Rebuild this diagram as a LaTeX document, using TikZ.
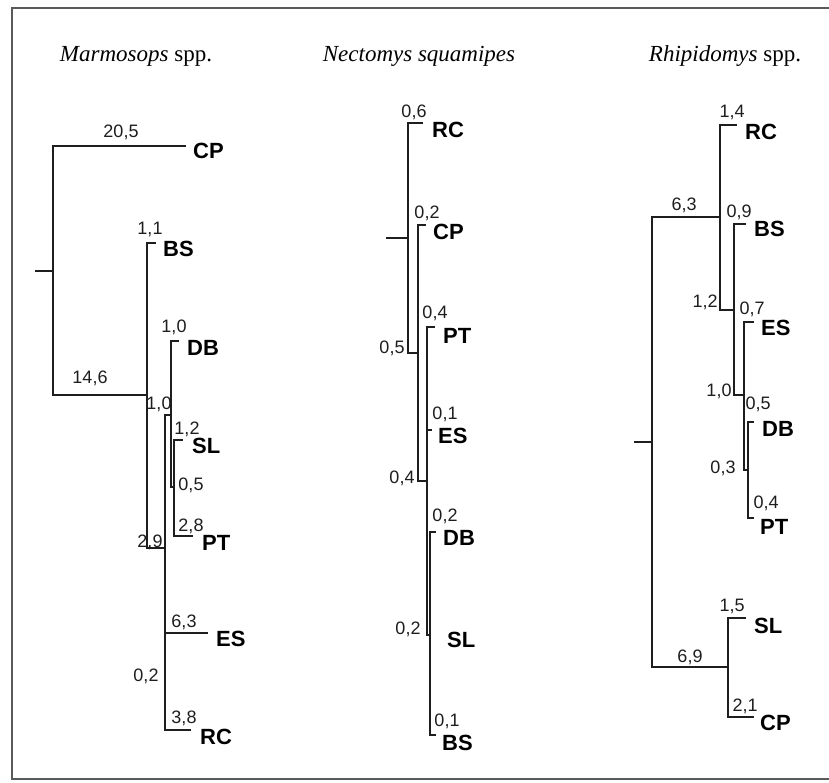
\documentclass[tikz,border=0pt]{standalone}
\usepackage{fontspec}
\setmainfont{Liberation Serif}
\newfontfamily\labfont{Liberation Sans}
\definecolor{ink}{HTML}{1E1E1E}
\definecolor{framec}{HTML}{5A5A5A}
\begin{document}
\begin{tikzpicture}[x=1pt,y=-1pt,
  branch/.style={draw=ink,line width=2.1pt,line cap=rect},
  framebox/.style={draw=framec,line width=2pt},
  num/.style={inner sep=0pt,anchor=base,text=ink,font=\labfont\fontsize{18}{18}\selectfont},
  leaf/.style={inner sep=0pt,anchor=base west,text=black,font=\labfont\bfseries\fontsize{22}{22}\selectfont},
  ttl/.style={inner sep=0pt,anchor=base,text=black,font=\fontsize{23}{23}\selectfont}]
\useasboundingbox (0,0) rectangle (829,783);
\fill[white] (0,0) rectangle (829,783);
\draw[framebox] (12,8) rectangle (845,779);

% titles
\node[ttl] (tL) at (136,62) {\textit{Marmosops} spp.};
\node[ttl] (tM) at (419,62) {\textit{Nectomys squamipes}};
\node[ttl] (tR) at (725,62) {\textit{Rhipidomys} spp.};

% ---------- left tree ----------
\coordinate (Lroot) at (36,271);
\coordinate (La) at (53,271);
\coordinate (LCP) at (185,146);
\coordinate (Lb) at (147,395);
\coordinate (LBS) at (155,243);
\coordinate (Lc) at (165,548);
\coordinate (Ld) at (171,415);
\coordinate (LRC) at (190,730);
\coordinate (LESj) at (165,633);
\coordinate (LES) at (207,633);
\coordinate (L02) at (165,682);
\coordinate (LDB) at (178,341);
\coordinate (Le) at (171,487);
\coordinate (Lf) at (174,487);
\coordinate (LSL) at (182,440);
\coordinate (LPT) at (192,536);
\draw[branch] (Lroot) -- (La);
\draw[branch] (LCP) -| (La) |- (Lb);
\draw[branch] (LBS) -| (Lb) |- (Lc);
\draw[branch] (Ld) -| (Lc) |- (LRC);
\draw[branch] (LESj) -- (LES);
\draw[branch,xshift=1.5pt] (LESj) -- (L02);
\draw[branch] (LDB) -| (Ld) -- (Le) -- (Lf);
\draw[branch] (LSL) -| (Lf) |- (LPT);

\node[num] (nL1) at (121,138) {20,5};
\node[num] (nL2) at (90,383) {14,6};
\node[num] (nL3) at (150,235) {1,1};
\node[num] (nL4) at (174,332) {1,0};
\node[num] (nL5) at (159,409) {1,0};
\node[num] (nL6) at (187,434) {1,2};
\node[num] (nL7) at (191,490) {0,5};
\node[num] (nL8) at (191,531) {2,8};
\node[num] (nL9) at (150,547) {2,9};
\node[num] (nL10) at (184,627) {6,3};
\node[num] (nL11) at (146,681) {0,2};
\node[num] (nL12) at (184,723) {3,8};
\node[leaf] (lLCP) at (193,159) {CP};
\node[leaf] (lLBS) at (163,257) {BS};
\node[leaf] (lLDB) at (187,355) {DB};
\node[leaf] (lLSL) at (192,453) {SL};
\node[leaf] (lLPT) at (202,550) {PT};
\node[leaf] (lLES) at (216,646) {ES};
\node[leaf] (lLRC) at (200,744) {RC};

% ---------- middle tree ----------
\coordinate (Mroot) at (387,238);
\coordinate (Ma) at (408,238);
\coordinate (MRC) at (422,123);
\coordinate (Mb) at (418,353);
\coordinate (MCP) at (425,225);
\coordinate (Mc) at (427,481);
\coordinate (MPT) at (434,327);
\coordinate (Md) at (430,635);
\coordinate (MESj) at (427,430);
\coordinate (MES) at (431,430);
\coordinate (MDB) at (435,532);
\coordinate (MBS) at (435,735);
\draw[branch] (Mroot) -- (Ma);
\draw[branch] (MRC) -| (Ma) |- (Mb);
\draw[branch] (MCP) -| (Mb) |- (Mc);
\draw[branch] (MPT) -| (Mc) |- (Md);
\draw[branch] (MESj) -- (MES);
\draw[branch] (MDB) -| (Md) |- (MBS);

\node[num] (nM1) at (414,118) {0,6};
\node[num] (nM2) at (427,219) {0,2};
\node[num] (nM3) at (435,318) {0,4};
\node[num] (nM4) at (392,353) {0,5};
\node[num] (nM5) at (445,419) {0,1};
\node[num] (nM6) at (402,483) {0,4};
\node[num] (nM7) at (445,521) {0,2};
\node[num] (nM8) at (408,634) {0,2};
\node[num] (nM9) at (447,726) {0,1};
\node[leaf] (lMRC) at (432,138) {RC};
\node[leaf] (lMCP) at (433,240) {CP};
\node[leaf] (lMPT) at (443,343) {PT};
\node[leaf] (lMES) at (438,443) {ES};
\node[leaf] (lMDB) at (443,545) {DB};
\node[leaf] (lMSL) at (447,647) {SL};
\node[leaf] (lMBS) at (442,750) {BS};

% ---------- right tree ----------
\coordinate (Rroot) at (635,442);
\coordinate (Ra) at (652,442);
\coordinate (Rb) at (720,217);
\coordinate (Rg) at (728,667);
\coordinate (RRC) at (736,125);
\coordinate (Rc) at (734,310);
\coordinate (RBS) at (745,224);
\coordinate (Rd) at (744,395);
\coordinate (RES) at (753,322);
\coordinate (Re) at (748,470);
\coordinate (RDB) at (753,422);
\coordinate (RPT) at (753,518);
\coordinate (RSL) at (745,618);
\coordinate (RCP) at (753,717);
\draw[branch] (Rroot) -- (Ra);
\draw[branch] (Rb) -| (Ra) |- (Rg);
\draw[branch] (RRC) -| (Rb) |- (Rc);
\draw[branch] (RBS) -| (Rc) |- (Rd);
\draw[branch] (RES) -| (Rd) |- (Re);
\draw[branch] (RDB) -| (Re) |- (RPT);
\draw[branch] (RSL) -| (Rg) |- (RCP);

\node[num] (nR1) at (732,118) {1,4};
\node[num] (nR2) at (684,211) {6,3};
\node[num] (nR3) at (739,218) {0,9};
\node[num] (nR4) at (705,308) {1,2};
\node[num] (nR5) at (752,314) {0,7};
\node[num] (nR6) at (719,396) {1,0};
\node[num] (nR7) at (758,409) {0,5};
\node[num] (nR8) at (723,473) {0,3};
\node[num] (nR9) at (766,508) {0,4};
\node[num] (nR10) at (732,611) {1,5};
\node[num] (nR11) at (690,662) {6,9};
\node[num] (nR12) at (745,711) {2,1};
\node[leaf] (lRRC) at (745,140) {RC};
\node[leaf] (lRBS) at (754,237) {BS};
\node[leaf] (lRES) at (761,335) {ES};
\node[leaf] (lRDB) at (762,436) {DB};
\node[leaf] (lRPT) at (760,534) {PT};
\node[leaf] (lRSL) at (754,633) {SL};
\node[leaf] (lRCP) at (760,730) {CP};
\end{tikzpicture}
\end{document}
